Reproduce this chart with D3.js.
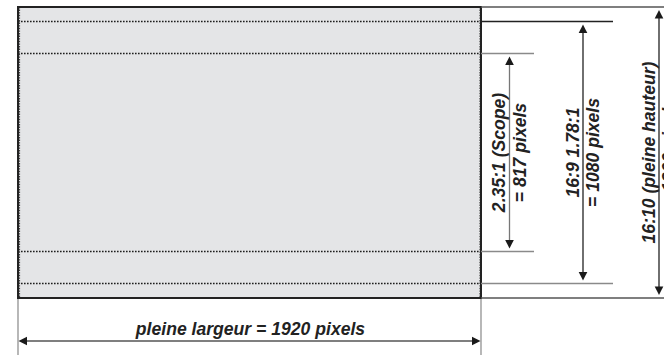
<!DOCTYPE html>
<html>
<head>
<meta charset="utf-8">
<script src="https://cdn.jsdelivr.net/npm/d3@7/dist/d3.min.js"></script>
<style>
  html, body { margin: 0; padding: 0; background: #fff; }
  svg { display: block; }
  text { font-family: "Liberation Sans", Arial, sans-serif; font-weight: bold; font-style: italic; fill: #222; }
</style>
</head>
<body>
<div id="chart"></div>
<script>
// ---- data ----
const fullWidth = 1920;
const fullHeight = 1200;
const formats = ["2.35:1 (Scope)", "16:9 1.78:1", "16:10 (pleine hauteur)"];
const formatHeights = [817, 1080, 1200];
const formatValueLabels = ["= 817 pixels", "= 1080 pixels", "= 1200 pixels"];
const widthLabel = "pleine largeur = 1920 pixels";

// ---- layout ----
const W = 664, H = 355;
const FS = 17.6;
const svg = d3.select("#chart").append("svg").attr("width", W).attr("height", H);

const x = d3.scaleLinear().domain([0, fullWidth]).range([18, 481]);
const y = d3.scaleLinear().domain([0, fullHeight]).range([7, 298]);

const bandTop = h => y((fullHeight - h) / 2);
const bandBot = h => y((fullHeight + h) / 2);

const arrowX = [509.5, 583, 659];
const extEnd = [534, 613, W];
const extColorTop = ["#8a8a8a", "#222", "#555"];
const extColorBot = ["#8a8a8a", "#8a8a8a", "#555"];
const arrowColor = ["#777", "#222", "#222"];
const line1Off = -4.5, line2Off = 16;
const midY = y(fullHeight / 2);

// gray picture area
svg.append("rect")
  .attr("x", x(0)).attr("y", y(0))
  .attr("width", x(fullWidth) - x(0)).attr("height", y(fullHeight) - y(0))
  .attr("fill", "#e4e5e7").attr("stroke", "none");

// vertical extension lines below the picture
[0, fullWidth].forEach(v => {
  svg.append("line").attr("x1", x(v)).attr("x2", x(v)).attr("y1", y(fullHeight)).attr("y2", H)
    .attr("stroke", "#888").attr("stroke-width", 1.2);
});

// dotted lines for letterbox bands
formatHeights.forEach(h => {
  if (h >= fullHeight) return;
  [bandTop(h), bandBot(h)].forEach(yy => {
    svg.append("line")
      .attr("x1", x(0)).attr("x2", x(fullWidth))
      .attr("y1", yy).attr("y2", yy)
      .attr("stroke", "#1e1e1e").attr("stroke-width", 1.6)
      .attr("stroke-dasharray", "1.6,1.4");
  });
});

// dotted inner verticals
[x(0) + 1.5, x(fullWidth) - 1].forEach(xx => {
  svg.append("line").attr("x1", xx).attr("x2", xx).attr("y1", y(0)).attr("y2", y(fullHeight))
    .attr("stroke", "#444").attr("stroke-width", 1.2).attr("stroke-dasharray", "1.4,1.2");
});

// picture border
svg.append("rect")
  .attr("x", x(0)).attr("y", y(0))
  .attr("width", x(fullWidth) - x(0)).attr("height", y(fullHeight) - y(0))
  .attr("fill", "none").attr("stroke", "#222").attr("stroke-width", 2);

// extension lines to the right
formatHeights.forEach((h, i) => {
  const t = bandTop(h), b = bandBot(h);
  svg.append("line").attr("x1", x(fullWidth)).attr("x2", extEnd[i]).attr("y1", t).attr("y2", t)
    .attr("stroke", extColorTop[i]).attr("stroke-width", 1.4);
  svg.append("line").attr("x1", x(fullWidth)).attr("x2", extEnd[i]).attr("y1", b).attr("y2", b)
    .attr("stroke", extColorBot[i]).attr("stroke-width", 1.4);
});

function head(tipX, tipY, dir, color) {
  const L = 8.5, hw = 4.3;
  let pts;
  if (dir === "up") pts = [[tipX, tipY], [tipX - hw, tipY + L], [tipX + hw, tipY + L]];
  else if (dir === "down") pts = [[tipX, tipY], [tipX - hw, tipY - L], [tipX + hw, tipY - L]];
  else if (dir === "left") pts = [[tipX, tipY], [tipX + L, tipY - hw], [tipX + L, tipY + hw]];
  else pts = [[tipX, tipY], [tipX - L, tipY - hw], [tipX - L, tipY + hw]];
  svg.append("path").attr("d", d3.line()(pts) + "Z").attr("fill", color);
}

// vertical arrows + labels
formatHeights.forEach((h, i) => {
  const t = bandTop(h) + 3, b = bandBot(h) - 3;
  const ax = arrowX[i];
  svg.append("line").attr("x1", ax).attr("x2", ax).attr("y1", t + 4).attr("y2", b - 4)
    .attr("stroke", arrowColor[i]).attr("stroke-width", 1.3);
  head(ax, t, "up", "#1a1a1a");
  head(ax, b, "down", "#1a1a1a");

  svg.append("text")
    .attr("transform", `translate(${ax + line1Off},${midY}) rotate(-90)`)
    .attr("text-anchor", "middle").attr("font-size", FS)
    .text(formats[i]);
  svg.append("text")
    .attr("transform", `translate(${ax + line2Off},${midY}) rotate(-90)`)
    .attr("text-anchor", "middle").attr("font-size", FS)
    .text(formatValueLabels[i]);
});

// horizontal arrow
const hy = 341;
svg.append("line").attr("x1", x(0) + 4).attr("x2", x(fullWidth) - 4).attr("y1", hy).attr("y2", hy)
  .attr("stroke", "#555").attr("stroke-width", 1.3);
head(x(0) + 0.5, hy, "left", "#1a1a1a");
head(x(fullWidth) - 0.5, hy, "right", "#1a1a1a");

svg.append("text")
  .attr("x", (x(0) + x(fullWidth)) / 2 + 1).attr("y", 335)
  .attr("text-anchor", "middle").attr("font-size", FS)
  .text(widthLabel);
</script>
</body>
</html>
